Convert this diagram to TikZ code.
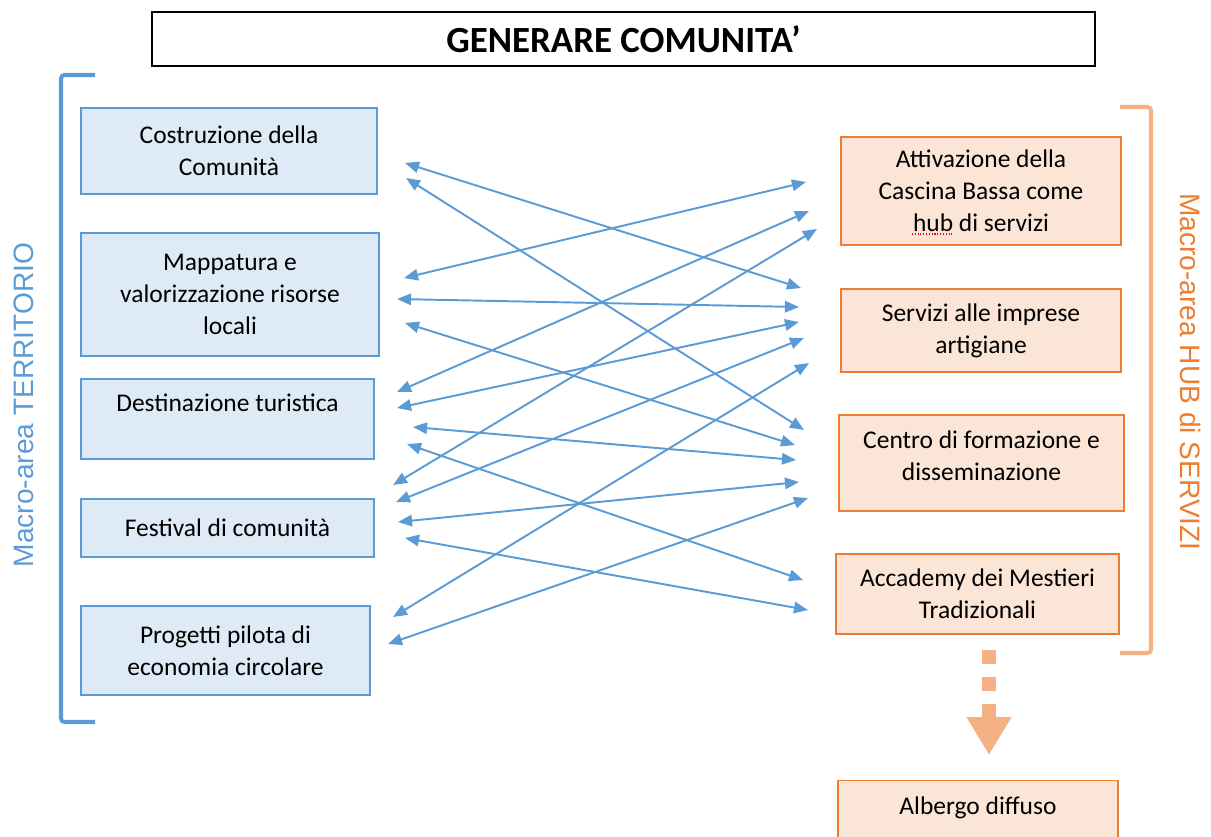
\documentclass[tikz,border=0pt]{standalone}
\usepackage{fontspec}
\setmainfont{Carlito}
\newfontfamily\arialfont{Liberation Sans}
\usepackage{xcolor}
\usetikzlibrary{arrows.meta}
\definecolor{terrblue}{HTML}{5B9BD5}
\definecolor{terrfill}{HTML}{DEEBF7}
\definecolor{hubline}{HTML}{ED7D31}
\definecolor{hubfill}{HTML}{FBE5D6}
\definecolor{hubsoft}{HTML}{F4B183}
\newlength\unitpx
\setlength\unitpx{0.02cm}
\tikzset{
    terrbox/.style={
        draw=terrblue,
        fill=terrfill,
        line width=0.8pt,
        align=center,
        inner sep=0pt,
        font=\fontsize{14.5}{18.1}\selectfont
    },
    hubbox/.style={
        draw=hubline,
        fill=hubfill,
        line width=0.8pt,
        align=center,
        inner sep=0pt,
        font=\fontsize{14.5}{18.1}\selectfont
    },
    link/.style={
        draw=terrblue,
        line width=1.1pt,
        {Triangle[length=8pt, width=6.5pt]}-{Triangle[length=8pt, width=6.5pt]}
    },
    bracket/.style={
        line width=2.3pt,
        rounded corners=2pt
    },
    sidelabel/.style={
        font=\arialfont\fontsize{16}{19}\selectfont,
        inner sep=0pt
    }
}

\begin{document}
\begin{tikzpicture}[x=0.02cm, y=-0.02cm]
  \useasboundingbox (0,0) rectangle (1211,836);
  \clip (0,0) rectangle (1211,836);

  % Title
  \node[draw, line width=0.8pt, minimum width=943\unitpx, minimum height=54\unitpx,
        font=\fontsize{21}{25}\selectfont\bfseries] (title) at (623.5,39) {GENERARE COMUNITA'};

  % Macro-area TERRITORIO
  \node[terrbox, minimum width=296\unitpx, minimum height=86\unitpx] (cost) at (229,151)
    {Costruzione della\\Comunità};
  \node[terrbox, minimum width=298\unitpx, minimum height=123\unitpx] (mapp) at (230,294.5)
    {Mappatura e\\valorizzazione risorse\\locali};
  \node[terrbox, minimum width=293\unitpx, minimum height=80\unitpx] (dest) at (227.5,419)
    {Destinazione turistica\\\mbox{}};
  \node[terrbox, minimum width=293\unitpx, minimum height=58\unitpx] (fest) at (227.5,528)
    {Festival di comunità};
  \node[terrbox, minimum width=289\unitpx, minimum height=89\unitpx] (prog) at (225.5,650.5)
    {Progetti pilota di\\economia circolare};

  % Macro-area HUB di SERVIZI
  \node[hubbox, minimum width=280\unitpx, minimum height=108\unitpx] (att) at (981,191)
    {Attivazione della\\Cascina Bassa come\\hub di servizi};
  \node[hubbox, minimum width=280\unitpx, minimum height=83\unitpx] (serv) at (981,330.5)
    {Servizi alle imprese\\artigiane};
  \node[hubbox, minimum width=285\unitpx, minimum height=96\unitpx] (cent) at (981.5,463)
    {Centro di formazione e\\disseminazione\\[-10pt]\mbox{}};
  \node[hubbox, minimum width=283\unitpx, minimum height=80\unitpx] (acc) at (977.5,594)
    {Accademy dei Mestieri\\Tradizionali};
  \node[hubbox, minimum width=280\unitpx, minimum height=60\unitpx, anchor=north] (alb) at (978,780)
    {Albergo diffuso\\[-12.4pt]\mbox{}};

  % spell-check mark under "hub"
  \draw[red, densely dotted, line width=0.6pt] (912,234) -- (953,234);

  % Brackets and side labels
  \draw[bracket, terrblue] (95,75) -- (61,75) -- (61,722) -- (95,722);
  \draw[bracket, hubsoft] (1120,107) -- (1151,107) -- (1151,653) -- (1120,653);
  \node[sidelabel, text=terrblue, rotate=90] (terrlabel) at (24,405) {Macro-area TERRITORIO};
  \node[sidelabel, text=hubline, rotate=-90] (hublabel) at (1191,372) {Macro-area HUB di SERVIZI};

  % Arrow ends on the left
  \coordinate (costA) at (405,163);
  \coordinate (costB) at (406,178);
  \coordinate (mappA) at (404,278);
  \coordinate (mappB) at (397,299);
  \coordinate (mappC) at (405,323);
  \coordinate (destA) at (397,392);
  \coordinate (destB) at (397,408);
  \coordinate (destC) at (413,427);
  \coordinate (destD) at (407,444);
  \coordinate (festA) at (393,485);
  \coordinate (festB) at (396,502);
  \coordinate (festC) at (398,522);
  \coordinate (festD) at (405,538);
  \coordinate (progA) at (393,617);
  \coordinate (progB) at (388,644);

  % Arrow ends on the right
  \coordinate (attA) at (806,182);
  \coordinate (attB) at (809,211);
  \coordinate (attC) at (817,229);
  \coordinate (servA) at (801,288);
  \coordinate (servB) at (799,307);
  \coordinate (servC) at (799,322);
  \coordinate (servD) at (804,338);
  \coordinate (servE) at (809,363);
  \coordinate (centA) at (804,430);
  \coordinate (centB) at (795,445);
  \coordinate (centC) at (796,460);
  \coordinate (centD) at (799,482);
  \coordinate (centE) at (808,498);
  \coordinate (accA) at (803,580);
  \coordinate (accB) at (808,610);

  % Links
  \draw[link] (costA) -- (servA);
  \draw[link] (costB) -- (centA);
  \draw[link] (mappA) -- (attA);
  \draw[link] (mappB) -- (servB);
  \draw[link] (mappC) -- (centB);
  \draw[link] (destA) -- (attB);
  \draw[link] (destB) -- (servC);
  \draw[link] (destC) -- (centC);
  \draw[link] (destD) -- (accA);
  \draw[link] (festA) -- (attC);
  \draw[link] (festB) -- (servD);
  \draw[link] (festC) -- (centD);
  \draw[link] (festD) -- (accB);
  \draw[link] (progA) -- (servE);
  \draw[link] (progB) -- (centE);

  % Dotted arrow down to Albergo diffuso
  \coordinate (dotstart) at (989,650);
  \coordinate (dotend) at (989,755);
  \draw[hubsoft, line width=7.9pt, dash pattern=on 7.7pt off 7.7pt,
        -{Triangle[length=21.5pt, width=24pt]}] (dotstart) -- (dotend);
\end{tikzpicture}
\end{document}
